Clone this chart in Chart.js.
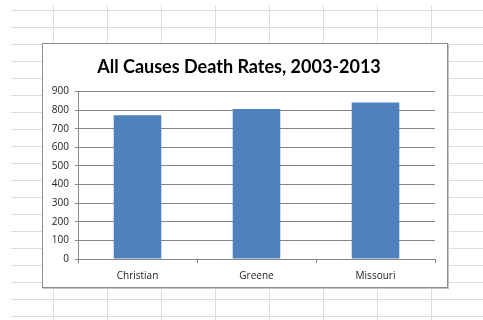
<!DOCTYPE html>
<html>
<head>
<meta charset="utf-8">
<script src="https://cdn.jsdelivr.net/npm/chart.js@4"></script>
<style>
  html, body { margin: 0; padding: 0; background: #fff; }
  body { width: 483px; height: 320px; position: relative; overflow: hidden; }
  /* worksheet cell lines behind the chart */
  .sheet {
    position: absolute; left: 11px; top: 5px; right: 0; bottom: 0;
    background-image:
      linear-gradient(to right, #dcdcdc 1px, transparent 1px),
      linear-gradient(to bottom, #dcdcdc 1px, transparent 1px);
    background-size: 54px 17px, 54px 17px;
    background-position: 42px 0, 0 5px;
  }
  .frame {
    position: absolute; left: 42px; top: 43px;
    width: 404px; height: 243px;
    border: 1px solid #8c8c8c;
    box-shadow: 1px 1px 0 #c4c4c4;
    background: #fff;
  }
  canvas { display: block; }
</style>
</head>
<body>
<div class="sheet"></div>
<div class="frame"><canvas id="deathChart" width="404" height="243"></canvas></div>
<script>
const categories = ["Christian", "Greene", "Missouri"];
const deathRates = [773, 807, 841];
const yMax = 900;
const yStep = 100;

const axisGray = "#868686";
const labelFont = { family: "'Open Sans', sans-serif", size: 10 };

new Chart(document.getElementById("deathChart"), {
  type: "bar",
  data: {
    labels: categories,
    datasets: [
      {
        label: "All Causes",
        data: deathRates,
        backgroundColor: "#4f81bd",
        borderWidth: 0,
        barPercentage: 0.4,
        categoryPercentage: 1,
      },
    ],
  },
  options: {
    responsive: false,
    animation: false,
    layout: { padding: { left: 0, right: 12, top: 0, bottom: 0 } },
    plugins: {
      legend: { display: false },
      tooltip: { enabled: false },
      title: {
        display: true,
        text: "All Causes Death Rates, 2003-2013",
        color: "#000",
        font: { family: "Lato, sans-serif", size: 18, weight: "bold", lineHeight: 1.2 },
        padding: { top: 12, bottom: 14 },
      },
    },
    scales: {
      x: {
        offset: true,
        grid: {
          offset: true,
          drawOnChartArea: false,
          drawTicks: true,
          tickLength: 4,
          color: axisGray,
        },
        border: { color: axisGray },
        ticks: { color: "#222", font: labelFont, padding: 7 },
        afterFit: (s) => { s.height = 28; },
      },
      y: {
        min: 0,
        max: yMax,
        grid: { color: axisGray, tickLength: 3 },
        border: { color: axisGray },
        ticks: { stepSize: yStep, color: "#222", font: labelFont, padding: 6 },
        afterFit: (s) => { s.width = 35; },
      },
    },
  },
});
</script>
</body>
</html>
